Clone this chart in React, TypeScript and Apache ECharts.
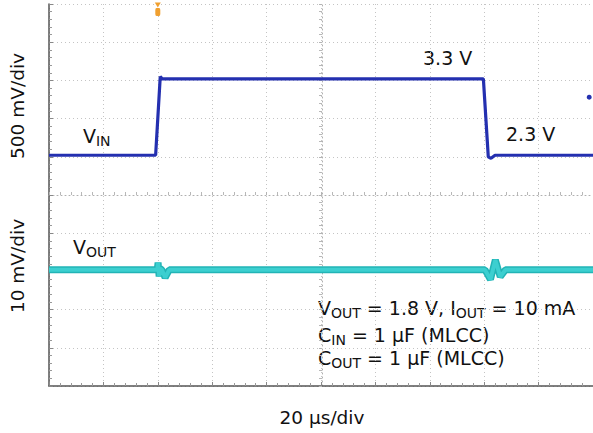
import React, { useEffect, useRef } from 'react';
import * as echarts from 'echarts';

// ---- data read from the scope capture ----
const timeRangeUs = [0, 200]; // 20 µs/div, 10 divisions
const timeDivUs = 20;
const divRange = [-5, 5]; // screen divisions (graticule)

const vinTimeUs = [0, 39.2, 40.9, 41.6, 159.7, 161.5, 162.5, 164.0, 200];
const vinVolts = [2.3, 2.3, 3.33, 3.3, 3.3, 2.28, 2.26, 2.3, 2.3];
const vinAxisV = [-0.72, 4.28]; // 500 mV/div

const voutTimeUs = [0, 39.8, 40.1, 40.5, 40.9, 41.5, 42.7, 44.2, 160.3, 162.3, 164.1, 165.9, 167.8, 200];
const voutMv = [1800, 1800, 1801.9, 1798.3, 1800.3, 1800, 1798, 1800, 1800, 1797.5, 1802.6, 1798.2, 1800, 1800];
const voutAxisMv = [1769.6, 1869.6]; // 10 mV/div

const triggerTimeUs = 40;
const vinChannelMarker = [198.6, 3.06];

const yAxisLabels = ['500 mV/div', '10 mV/div'];
const xAxisLabel = '20 µs/div';
const vinLevelLabels = ['3.3 V', '2.3 V'];
const traceLabels = ['{m|V}{s|IN}', '{m|V}{s|OUT}'];
const conditionLines = [
  '{m|V}{s|OUT}{m| = 1.8 V, I}{s|OUT}{m| = 10 mA}',
  '{m|C}{s|IN}{m| = 1 µF (MLCC)}',
  '{m|C}{s|OUT}{m| = 1 µF (MLCC)}',
];

const FONT = 'DejaVu Sans';
const TXT = '#111111';
const rich = {
  m: { fontSize: 19, lineHeight: 24, fontFamily: FONT, fill: TXT },
  s: { fontSize: 14, lineHeight: 10, verticalAlign: 'bottom', fontFamily: FONT, fill: TXT },
};

const gridDots = { color: '#c4c4c4', width: 1, type: [1, 3] as any };

export default function App() {
  const ref = useRef<HTMLDivElement>(null);
  useEffect(() => {
    if (!ref.current) return;
    const chart = echarts.init(ref.current, undefined, { renderer: 'svg' });
    const plain = (txt: string, x: number, y: number, size: number, extra: any = {}) => ({
      type: 'text',
      x,
      y,
      ...extra,
      style: { text: txt, fontSize: size, fontFamily: FONT, fill: TXT, align: 'left', verticalAlign: 'middle', ...(extra.style || {}) },
    });
    const richText = (txt: string, x: number, y: number) => ({
      type: 'text',
      x,
      y,
      style: { text: txt, rich, fontSize: 19, fontFamily: FONT, fill: TXT, align: 'left', verticalAlign: 'middle' },
    });
    const option: any = {
      animation: false,
      backgroundColor: '#ffffff',
      grid: { left: 49, right: -2, top: 4, bottom: 47, containLabel: false },
      xAxis: [
        {
          type: 'value',
          min: timeRangeUs[0],
          max: timeRangeUs[1],
          interval: timeDivUs,
          position: 'bottom',
          axisLine: { show: true, onZero: false, lineStyle: { color: '#555555', width: 1.5 } },
          axisTick: { show: true, inside: true, length: 4, lineStyle: { color: '#888888' } },
          minorTick: { show: true, splitNumber: 5, length: 3, lineStyle: { color: '#999999' } },
          axisLabel: { show: false },
          splitLine: { show: true, lineStyle: gridDots },
        },
        {
          type: 'value',
          min: timeRangeUs[0],
          max: timeRangeUs[1],
          interval: timeDivUs,
          position: 'top',
          offset: -191,
          axisLine: { show: true, onZero: false, lineStyle: { color: '#b0b0b0', width: 1, type: [1, 3] } },
          axisTick: { show: true, length: 3, lineStyle: { color: '#b4b4b4' } },
          minorTick: { show: true, splitNumber: 5, length: 3, lineStyle: { color: '#b8b8b8' } },
          axisLabel: { show: false },
          splitLine: { show: false },
        },
      ],
      yAxis: [
        {
          type: 'value',
          min: divRange[0],
          max: divRange[1],
          interval: 1,
          position: 'left',
          axisLine: { show: true, onZero: false, lineStyle: { color: '#555555', width: 1.5 } },
          axisTick: { show: true, inside: true, length: 4, lineStyle: { color: '#888888' } },
          minorTick: { show: true, splitNumber: 5, length: 3, lineStyle: { color: '#999999' } },
          axisLabel: { show: false },
          splitLine: { show: true, lineStyle: gridDots },
        },
        {
          type: 'value',
          min: divRange[0],
          max: divRange[1],
          interval: 1,
          position: 'left',
          offset: -273,
          axisLine: { show: true, onZero: false, lineStyle: { color: '#b0b0b0', width: 1, type: [1, 3] } },
          axisTick: { show: true, length: 3, lineStyle: { color: '#b4b4b4' } },
          minorTick: { show: true, splitNumber: 5, length: 3, lineStyle: { color: '#b8b8b8' } },
          axisLabel: { show: false },
          splitLine: { show: false },
        },
        { type: 'value', show: false, min: vinAxisV[0], max: vinAxisV[1], splitLine: { show: false } },
        { type: 'value', show: false, min: voutAxisMv[0], max: voutAxisMv[1], splitLine: { show: false } },
      ],
      series: [
        {
          name: 'VOUT band',
          type: 'line',
          xAxisIndex: 0,
          yAxisIndex: 3,
          showSymbol: false,
          data: voutTimeUs.map((t, i) => [t, voutMv[i]]),
          lineStyle: { color: '#22b4b6', width: 7 },
          z: 3,
        },
        {
          name: 'VOUT',
          type: 'line',
          xAxisIndex: 0,
          yAxisIndex: 3,
          showSymbol: false,
          data: voutTimeUs.map((t, i) => [t, voutMv[i]]),
          lineStyle: { color: '#3ccfd0', width: 4 },
          z: 4,
        },
        {
          name: 'VIN',
          type: 'line',
          xAxisIndex: 0,
          yAxisIndex: 2,
          showSymbol: false,
          data: vinTimeUs.map((t, i) => [t, vinVolts[i]]),
          lineStyle: { color: '#2430b0', width: 3.2 },
          z: 5,
          markPoint: {
            silent: true,
            label: { show: false },
            data: [
              { coord: [triggerTimeUs, vinAxisV[1]], symbol: 'triangle', symbolRotate: 180, symbolSize: [6, 5], symbolOffset: [0, 1], itemStyle: { color: '#f0a030' } },
              { coord: [triggerTimeUs, vinAxisV[1]], symbol: 'roundRect', symbolSize: [5, 8], symbolOffset: [0, 8], itemStyle: { color: '#f0a030' } },
              { coord: vinChannelMarker, symbol: 'circle', symbolSize: 5, itemStyle: { color: '#2430b0' } },
            ],
          },
        },
      ],
      graphic: [
        plain(yAxisLabels[0], 17, 106, 18.5, { rotation: Math.PI / 2, style: { align: 'center' } }),
        plain(yAxisLabels[1], 17, 266, 18.5, { rotation: Math.PI / 2, style: { align: 'center' } }),
        plain(xAxisLabel, 322, 417, 18.5, { style: { align: 'center' } }),
        plain(vinLevelLabels[0], 423, 58, 19),
        plain(vinLevelLabels[1], 506, 134, 19),
        richText(traceLabels[0], 83, 136),
        richText(traceLabels[1], 73, 247),
        richText(conditionLines[0], 318, 308),
        richText(conditionLines[1], 318, 335),
        richText(conditionLines[2], 318, 358),
      ],
    };
    chart.setOption(option);
    return () => chart.dispose();
  }, []);
  return (
    <div
      ref={ref}
      style={{ position: 'fixed', left: 0, top: 0, width: 593, height: 433, background: '#ffffff' }}
    />
  );
}
